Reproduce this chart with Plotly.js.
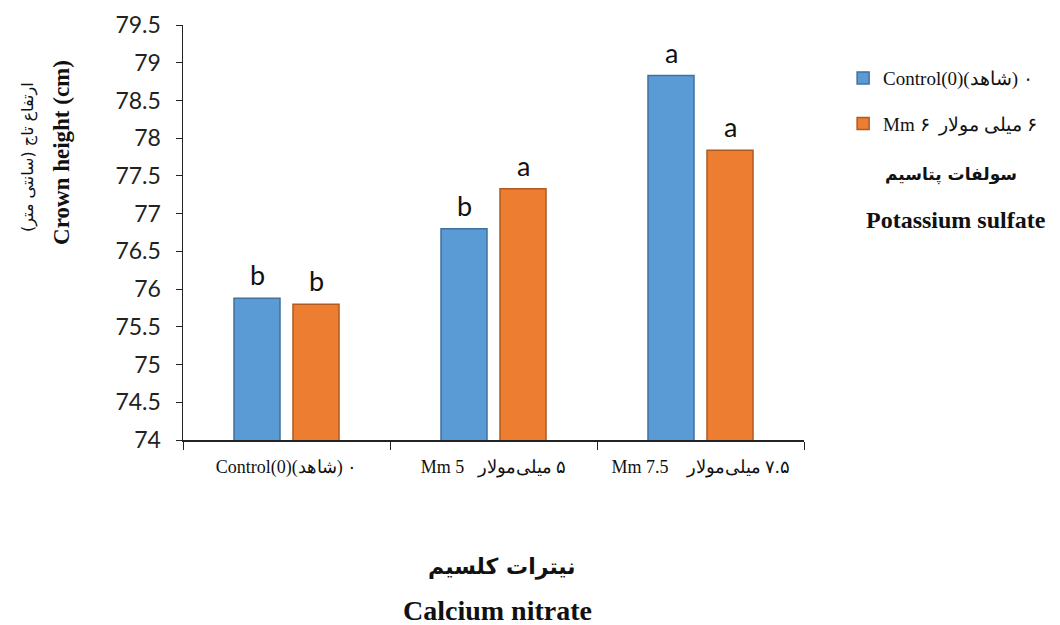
<!DOCTYPE html>
<html>
<head>
<meta charset="utf-8">
<script src="https://cdn.plot.ly/plotly-3.0.1.min.js"></script>
<style>html,body{margin:0;padding:0;background:#fff;}#chart{width:1060px;height:625px;}</style>
</head>
<body>
<div id="chart"></div>
<script>
const RLM = "\u200F";
const categories = ["Control(0)(شاهد) ۰", "Mm 5   " + RLM + "۵ میلی‌مولار", "Mm 7.5    " + RLM + "۷.۵ میلی‌مولار"];
const seriesNames = ["Control(0)(شاهد) ۰", "Mm ۶  " + RLM + "۶ میلی مولار"];
const controlValues = [75.88, 76.80, 78.83];
const sulfateValues = [75.80, 77.33, 77.84];
const controlLetters = ["b", "b", "a"];
const sulfateLetters = ["b", "a", "a"];
const yTicks = [74, 74.5, 75, 75.5, 76, 76.5, 77, 77.5, 78, 78.5, 79, 79.5];

const serif = "Liberation Serif, Times New Roman, serif";
const sans = "Lato, Liberation Sans, sans-serif";
const persian = "DejaVu Sans, sans-serif";

const traces = [
  {type: "bar", name: seriesNames[0], legendgroup: "g1", x: categories, y: controlValues,
   marker: {color: "#5B9BD5", line: {color: "#41719C", width: 1.5}}},
  {type: "bar", name: seriesNames[1], legendgroup: "g2", x: categories, y: sulfateValues,
   marker: {color: "#ED7D31", line: {color: "#AE5A21", width: 1.5}}}
];

const letterAnnotations = [];
[[controlValues, controlLetters, -29.5], [sulfateValues, sulfateLetters, 29.5]].forEach(([vals, letters, shift]) => {
  vals.forEach((v, i) => {
    letterAnnotations.push({x: categories[i], y: v, xref: "x", yref: "y", text: letters[i],
      showarrow: false, xanchor: "center", yanchor: "bottom", xshift: shift, yshift: 5,
      font: {family: sans, size: 27, color: "#111"}});
  });
});

const layout = {
  width: 1060, height: 625,
  margin: {l: 183, r: 256, t: 25, b: 185},
  paper_bgcolor: "#fff", plot_bgcolor: "#fff",
  barmode: "group", bargap: 0.43, bargroupgap: 0.22,
  showlegend: true,
  legend: {x: 1.063, y: 0.918, xanchor: "left", yanchor: "top", traceorder: "grouped",
           font: {family: serif, size: 19, color: "#111"}, tracegroupgap: 18},
  xaxis: {type: "category", showline: true, linecolor: "#222", linewidth: 1.5,
          ticks: "outside", tickson: "boundaries", ticklen: 8, tickcolor: "#222",
          ticklabelstandoff: 10,
          tickfont: {family: serif, size: 18, color: "#111"}, showgrid: false, zeroline: false},
  yaxis: {range: [74, 79.5], tickvals: yTicks, ticktext: yTicks.map(String),
          showline: true, linecolor: "#222", linewidth: 1.5, ticks: "outside", ticklen: 6,
          tickcolor: "#222", ticklabelstandoff: 10, tickfont: {family: sans, size: 23, color: "#222"},
          showgrid: false, zeroline: false},
  annotations: letterAnnotations.concat([
    {text: "ارتفاع تاج (سانتی متر)", xref: "paper", yref: "paper", x: -0.2496, y: 0.682,
     xanchor: "center", yanchor: "middle",
     textangle: -90, showarrow: false, font: {family: persian, size: 16, color: "#111"}},
    {text: "<b>Crown height (cm)</b>", xref: "paper", yref: "paper", x: -0.195, y: 0.694,
     xanchor: "center", yanchor: "middle",
     textangle: -90, showarrow: false, font: {family: serif, size: 23, color: "#111"}},
    {text: "<b>نیترات کلسیم</b>", xref: "paper", yref: "paper", x: 0.514, y: -0.306,
     xanchor: "center", yanchor: "middle",
     showarrow: false, font: {family: persian, size: 22, color: "#111"}},
    {text: "<b>Calcium nitrate</b>", xref: "paper", yref: "paper", x: 0.507, y: -0.41,
     xanchor: "center", yanchor: "middle",
     showarrow: false, font: {family: serif, size: 28, color: "#111"}},
    {text: "<b>سولفات پتاسیم</b>", xref: "paper", yref: "paper", x: 1.237, y: 0.639,
     xanchor: "center", yanchor: "middle",
     showarrow: false, font: {family: persian, size: 17, color: "#111"}},
    {text: "<b>Potassium sulfate</b>", xref: "paper", yref: "paper", x: 1.245, y: 0.530,
     xanchor: "center", yanchor: "middle",
     showarrow: false, font: {family: serif, size: 24, color: "#111"}}
  ])
};

Plotly.newPlot("chart", traces, layout, {displayModeBar: false, staticPlot: true});
</script>
</body>
</html>
